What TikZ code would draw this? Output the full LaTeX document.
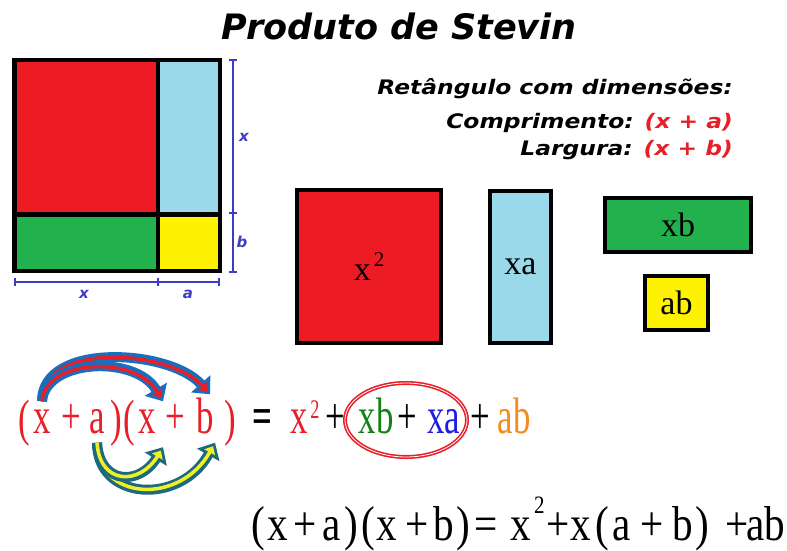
\documentclass[tikz,border=0pt]{standalone}
\usepackage{fontspec}
\setmainfont{Liberation Serif}
\newfontfamily\verd{DejaVu Sans}
\usetikzlibrary{arrows.meta}
\definecolor{rred}{RGB}{237,28,36}
\definecolor{lblue}{RGB}{153,217,234}
\definecolor{ggreen}{RGB}{34,177,76}
\definecolor{yyel}{RGB}{255,242,0}
\definecolor{dimblue}{RGB}{60,60,200}
\definecolor{eqred}{RGB}{232,30,40}
\definecolor{eqgreen}{RGB}{20,130,20}
\definecolor{eqblue}{RGB}{30,30,225}
\definecolor{eqorange}{RGB}{242,140,30}
\definecolor{arrblue}{RGB}{25,110,190}
\definecolor{arrteal}{RGB}{30,105,125}
\definecolor{arryel}{RGB}{240,240,40}
\newcommand\sx[1]{\scalebox{0.87}[1.28]{#1}}
\newcommand\sxb[1]{\scalebox{0.84}[1]{#1}}
\newcommand\fancyarrow[3]{%
  \draw[#1, line width=10pt, -{Triangle[length=14pt,width=25pt]}] #3;
  \draw[#2, line width=3.5pt, shorten >=4pt, -{Triangle[length=7pt,width=12pt]}] #3;}
\begin{document}
\begin{tikzpicture}[x=1pt,y=-1pt,
  tile/.style={draw=black, line width=4pt, inner sep=0pt,
    font=\fontsize{34}{34}\selectfont},
  eqt/.style={inner sep=0pt, anchor=base, font=\fontsize{40}{40}\selectfont},
  eqb/.style={inner sep=0pt, anchor=base, font=\fontsize{49}{49}\selectfont},
  dimlbl/.style={text=dimblue, font=\verd\bfseries\itshape\fontsize{15}{15}\selectfont},
  dimline/.style={dimblue, line width=2pt},
  rtxt/.style={anchor=base east, inner sep=0pt, font=\verd\bfseries\itshape\fontsize{20}{20}\selectfont}
]
\useasboundingbox (0,0) rectangle (787,551);

% title
\node[font=\verd\bfseries\itshape\fontsize{35}{35}\selectfont, anchor=base] (title) at (399,40) {Produto de Stevin};

% big square
\fill[rred] (14,60) rectangle (158,214.5);
\fill[lblue] (158,60) rectangle (220,214.5);
\fill[ggreen] (14,214.5) rectangle (158,271);
\fill[yyel] (158,214.5) rectangle (220,271);
\draw[line width=4.5pt] (14.25,60.25) rectangle (219.75,270.75);
\draw[line width=4.5pt] (158,60) -- (158,271);
\draw[line width=4.5pt] (14,214.5) -- (220,214.5);

% dimension lines
\coordinate (v1) at (233,59);
\coordinate (v2) at (233,214);
\coordinate (v3) at (233,273);
\coordinate (h1) at (14,282);
\coordinate (h2) at (159,282);
\coordinate (h3) at (220,282);
\draw[dimline, {Bar[width=8pt]}-{Bar[width=8pt]}] (v1) -- (v2);
\draw[dimline, -{Bar[width=8pt]}] (v2) -- (v3);
\draw[dimline, {Bar[width=8pt]}-{Bar[width=8pt]}] (h1) -- (h2);
\draw[dimline, -{Bar[width=8pt]}] (h2) -- (h3);
\node[dimlbl] (lx1) at (244,137) {x};
\node[dimlbl] (lb1) at (242,242) {b};
\node[dimlbl] (lx2) at (84,294) {x};
\node[dimlbl] (la2) at (188,294) {a};

% right text
\node[rtxt] (t1) at (733,95) {\scalebox{1.17}[1]{Retângulo com dimensões:}};
\node[rtxt] (t2) at (733,128) {\scalebox{1.17}[1]{Comprimento: \textcolor{eqred}{(x + a)}}};
\node[rtxt] (t3) at (733,155) {\scalebox{1.17}[1]{Largura: \textcolor{eqred}{(x + b)}}};

% tiles
\node[tile, fill=rred, minimum width=144, minimum height=153] (sq) at (369,266.5) {x\hspace{3pt}\raisebox{14pt}{\fontsize{21}{21}\selectfont 2}};
\node[tile, fill=lblue, minimum width=61, minimum height=152] (ra) at (520.5,267) {xa};
\node[tile, fill=ggreen, minimum width=146, minimum height=54] (rb) at (678,225) {xb};
\node[tile, fill=yyel, minimum width=63, minimum height=54] (rab) at (676.5,303) {ab};

% equation 1
\begin{scope}[eqred]
\node[eqt] (lp1) at (24,433) {\sx{\raisebox{-2pt}{(}}};
\node[eqt] (x1) at (42,433) {\sx{x}};
\node[eqt] (p1) at (71,433) {\sx{+}};
\node[eqt] (a1) at (97,433) {\sx{a}};
\node[eqt] (rp1) at (116,433) {\sx{\raisebox{-2pt}{)}}};
\node[eqt] (lp2) at (129,433) {\sx{\raisebox{-2pt}{(}}};
\node[eqt] (x2) at (147,433) {\sx{x}};
\node[eqt] (p2) at (175,433) {\sx{+}};
\node[eqt] (b2) at (205,433) {\sx{b}};
\node[eqt] (rp2) at (230,433) {\sx{\raisebox{-2pt}{)}}};
\end{scope}
\node[eqt] (eq) at (262,433) {\sx{\textbf{=}}};
\node[eqt, text=eqred] (xx) at (305,433) {\sx{x\hspace{3pt}\raisebox{11pt}{\fontsize{21}{21}\selectfont 2}}};
\node[eqt] (pl1) at (335,433) {\sx{+}};
\node[eqt, text=eqgreen] (xb) at (376,433) {\sx{xb}};
\node[eqt] (pl2) at (407,433) {\sx{+}};
\node[eqt, text=eqblue] (xa) at (444,433) {\sx{xa}};
\node[eqt] (pl3) at (480,433) {\sx{+}};
\node[eqt, text=eqorange] (ab) at (514,433) {\sx{ab}};
\draw[eqred, line width=1.6pt, double=white, double distance=0.8pt] (406,420) ellipse [x radius=61, y radius=37];

% arrows
\fancyarrow{arrblue}{eqred}{([yshift=8pt]x1.north) .. controls +(0,-60) and +(-40,-45) .. ([xshift=5pt,yshift=3pt]b2.north)}
\fancyarrow{arrblue}{eqred}{([yshift=8pt]x1.north) .. controls +(3,-42) and +(-28,-47) .. ([xshift=16pt,yshift=8pt]x2.north)}
\fancyarrow{arrteal}{arryel}{([yshift=-9pt]a1.south) .. controls +(0,58) and +(-35,63) .. ([xshift=10pt,yshift=-9pt]b2.south)}
\fancyarrow{arrteal}{arryel}{([yshift=-9pt]a1.south) .. controls +(3,43) and +(-23,38) .. ([xshift=16pt,yshift=-14pt]x2.south)}

% equation 2
\foreach \t/\px [count=\i] in {{(}/258, x/278, +/305, a/332, {)}/351, {(}/368, x/387, +/417, b/444, {)}/463, =/486, +/558, x/581, {(}/602, a/622, +/652, b/683, {)}/702, +/737, ab/766}
  \node[eqb] (e\i) at (\px,540) {\sxb{\t}};
\node[eqb, anchor=base west] (esq) at (510,540) {\sxb{x\hspace{4pt}\raisebox{27pt}{\fontsize{25}{25}\selectfont 2}}};
\end{tikzpicture}
\end{document}
